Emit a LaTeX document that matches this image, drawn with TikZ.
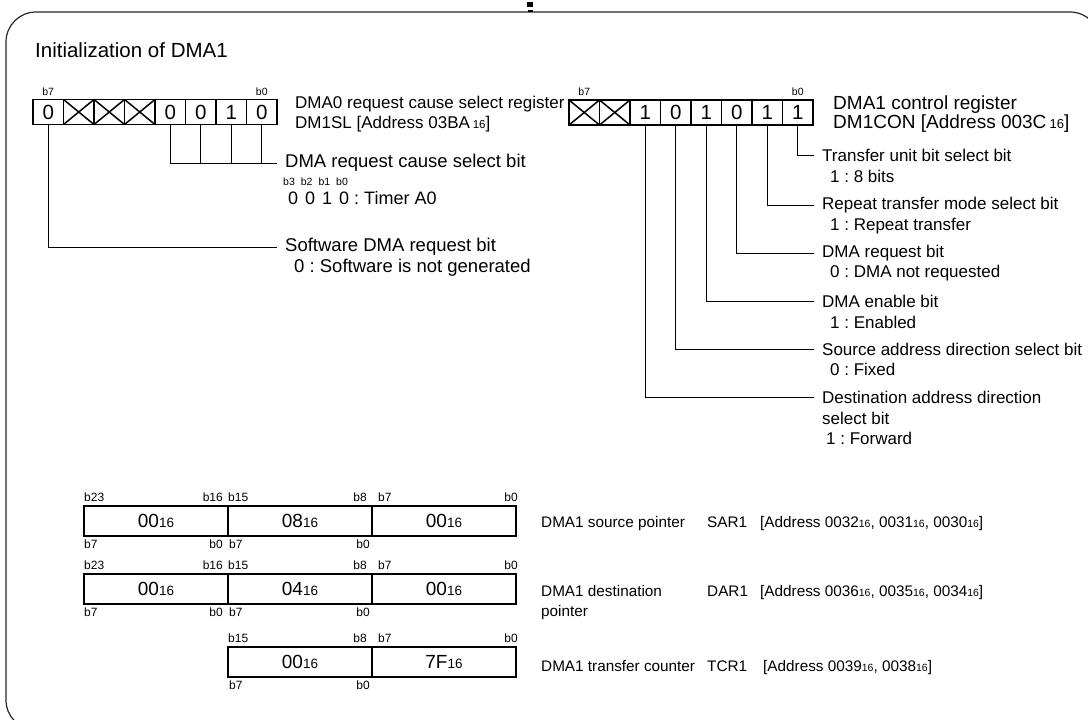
\documentclass[tikz,border=0pt]{standalone}
\usepackage{fontspec}
\setmainfont{Liberation Sans}
\usetikzlibrary{calc}
\frenchspacing

\newcommand{\fsz}[2]{\fontsize{#1}{#2}\selectfont}
\newcommand{\hexs}[1]{{\fsz{#1}{#1}16}}

\tikzset{
  regcell/.style={draw, line width=1.1pt, minimum width=30.5pt, minimum height=25pt, inner sep=0pt, outer sep=0pt, font=\fsz{20.5}{20.5}},
  cross/.style={line width=1.5pt},
  bitno/.style={inner sep=0pt, font=\fsz{10.5}{12}},
  leader/.style={line width=0.8pt},
  bitlbl/.style={anchor=west, inner xsep=8pt, inner ysep=1pt, font=\fsz{17}{20}},
  bitval/.style={anchor=west, inner sep=0pt, font=\fsz{17}{20}},
  regname/.style={anchor=west, inner sep=0pt, align=left},
  ptrcell/.style={draw, line width=1.3pt, minimum width=144pt, minimum height=30pt, inner sep=0pt, outer sep=0pt, font=\fsz{19}{19}},
  ptrbit/.style={inner sep=0pt, font=\fsz{12}{12}},
  ptrtxt/.style={anchor=base west, inner sep=0pt, font=\fsz{15.3}{19.5}},
}

\begin{document}
\begin{tikzpicture}[x=1pt, y=-1pt]
  \useasboundingbox (0,0) rectangle (1088,720);
  \draw[line width=1.2pt, black!85, rounded corners=30pt] (6,12) rectangle (1100,730);
  \fill (527,2) rectangle (533,7);
  \fill (528,10) rectangle (533,12);

  \node[anchor=base west, inner sep=0pt, font=\fsz{20.5}{24}] (title) at (35,57) {Initialization of DMA1};

  % DM1SL register
  \foreach \v [count=\i from 0] in {0,{},{},{},0,0,1,0}
    \node[regcell] (sl\i) at ({33+30.5*(\i+0.5)},112) {\v};
  \draw[line width=1.8pt] (sl0.north west) rectangle (sl7.south east);
  \foreach \i in {1,2,3}
    \draw[cross] (sl\i.north west) -- (sl\i.south east) (sl\i.north east) -- (sl\i.south west);
  \node[bitno, above=4pt] at (sl0.north) {b7};
  \node[bitno, above=4pt] at (sl7.north) {b0};
  \node[regname, font=\fsz{17}{19.5}] (slname) at (295,114) {DMA0 request cause select register\\DM1SL [Address 03BA\,\hexs{11.5}]};

  \node[bitlbl, font=\fsz{18.5}{20}] (cause) at (277,163) {DMA request cause select bit};
  \draw[leader] (sl4.south) |- (cause.west);
  \draw[leader] (sl5.south) -- (sl5.south |- cause.west);
  \draw[leader] (sl6.south) -- (sl6.south |- cause.west);
  \draw[leader] (sl7.south) -- (sl7.south |- cause.west);
  \node[bitno, anchor=base west] at (283,185) {b3\hspace{6pt}b2\hspace{6pt}b1\hspace{6pt}b0};
  \node[bitval, anchor=base west, font=\fsz{18}{20}] at (288,204) {0\hspace{7pt}0\hspace{7pt}1\hspace{7pt}0 : Timer A0};

  \node[bitlbl, font=\fsz{18.5}{20}] (sw) at (277,247) {Software DMA request bit};
  \draw[leader] (sl0.south) |- (sw.west);
  \node[bitval, font=\fsz{18.5}{20}] at (294,268) {0 : Software is not generated};

  % DM1CON register
  \foreach \v [count=\i from 0] in {{},{},1,0,1,0,1,1}
    \node[regcell] (cn\i) at ({569+30.5*(\i+0.5)},112.5) {\v};
  \draw[line width=1.8pt] (cn0.north west) rectangle (cn7.south east);
  \foreach \i in {0,1}
    \draw[cross] (cn\i.north west) -- (cn\i.south east) (cn\i.north east) -- (cn\i.south west);
  \node[bitno, above=4pt] at (cn0.north) {b7};
  \node[bitno, above=4pt] at (cn7.north) {b0};
  \node[regname, font=\fsz{19}{19}] (cnname) at (833,114) {DMA1 control register\\DM1CON [Address 003C\,\hexs{13}]};

  \node[bitlbl] (tu) at (814,155) {Transfer unit bit select bit};
  \node[bitval] at (830,176) {1 : 8 bits};
  \draw[leader] (cn7.south) |- (tu.west);

  \node[bitlbl] (rt) at (814,205) {Repeat transfer mode select bit};
  \node[bitval] at (830,226) {1 : Repeat transfer};
  \draw[leader] (cn6.south) |- (rt.west);

  \node[bitlbl] (rq) at (814,253) {DMA request bit};
  \node[bitval] at (830,273) {0 : DMA not requested};
  \draw[leader] (cn5.south) |- (rq.west);

  \node[bitlbl] (en) at (814,301) {DMA enable bit};
  \node[bitval] at (830,322) {1 : Enabled};
  \draw[leader] (cn4.south) |- (en.west);

  \node[bitlbl] (sd) at (814,349) {Source address direction select bit};
  \node[bitval] at (830,369) {0 : Fixed};
  \draw[leader] (cn3.south) |- (sd.west);

  \node[bitlbl] (dd) at (814,397) {Destination address direction};
  \node[bitval] at (822,418) {select bit};
  \node[bitval] at (826,438) {1 : Forward};
  \draw[leader] (cn2.south) |- (dd.west);

  % pointers and counter
  \node[ptrcell] (sa2) at (156,521) {00\hexs{13.5}};
  \node[ptrcell] (sa1) at (300,521) {08\hexs{13.5}};
  \node[ptrcell] (sa0) at (444,521) {00\hexs{13.5}};
  \node[ptrcell] (da2) at (156,589) {00\hexs{13.5}};
  \node[ptrcell] (da1) at (300,589) {04\hexs{13.5}};
  \node[ptrcell] (da0) at (444,589) {00\hexs{13.5}};
  \node[ptrcell] (tc1) at (300,662) {00\hexs{13.5}};
  \node[ptrcell] (tc0) at (444,662) {7F\hexs{13.5}};

  \foreach \r in {sa,da} {
    \node[ptrbit, anchor=south west] at ([yshift=4pt]\r2.north west) {b23};
    \node[ptrbit, anchor=south east] at ([xshift=-5pt,yshift=4pt]\r2.north east) {b16};
    \node[ptrbit, anchor=north west] at ([yshift=-4pt]\r2.south west) {b7};
    \node[ptrbit, anchor=north east] at ([xshift=-5pt,yshift=-4pt]\r2.south east) {b0};
  }
  \foreach \r in {sa,da,tc} {
    \node[ptrbit, anchor=south west] at ([yshift=4pt]\r1.north west) {b15};
    \node[ptrbit, anchor=south east] at ([xshift=-5pt,yshift=4pt]\r1.north east) {b8};
    \node[ptrbit, anchor=south west] at ([xshift=6pt,yshift=4pt]\r0.north west) {b7};
    \node[ptrbit, anchor=south east] at ([xshift=2pt,yshift=4pt]\r0.north east) {b0};
    \node[ptrbit, anchor=north west] at ([xshift=1pt,yshift=-4pt]\r1.south west) {b7};
    \node[ptrbit, anchor=north east] at ([xshift=-2pt,yshift=-4pt]\r1.south east) {b0};
  }

  \node[ptrtxt] (saname) at (541,527) {DMA1 source pointer};
  \node[ptrtxt] at (707,527) {SAR1};
  \node[ptrtxt] at (760,527) {[Address 0032\hexs{10.5}, 0031\hexs{10.5}, 0030\hexs{10.5}]};
  \node[ptrtxt] (daname) at (541,596) {DMA1 destination};
  \node[ptrtxt] at (541,616) {pointer};
  \node[ptrtxt] at (707,596) {DAR1};
  \node[ptrtxt] at (760,596) {[Address 0036\hexs{10.5}, 0035\hexs{10.5}, 0034\hexs{10.5}]};
  \node[ptrtxt] (tcname) at (541,671) {DMA1 transfer counter};
  \node[ptrtxt] at (707,671) {TCR1};
  \node[ptrtxt] at (763,671) {[Address 0039\hexs{10.5}, 0038\hexs{10.5}]};
\end{tikzpicture}
\end{document}
